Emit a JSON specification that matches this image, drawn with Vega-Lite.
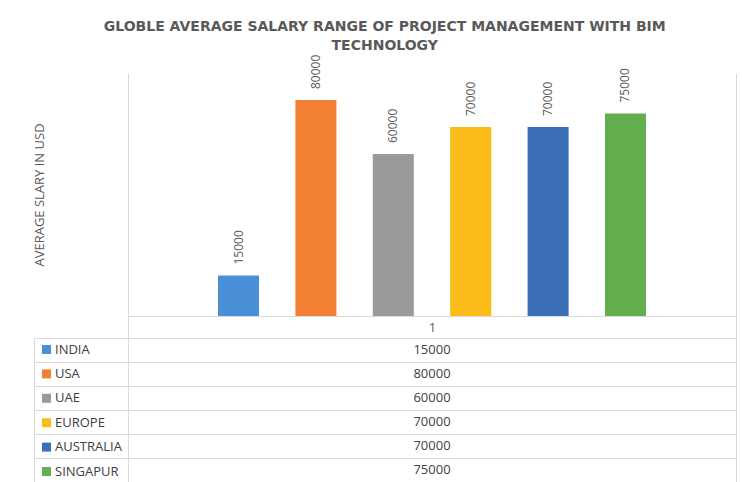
{
  "$schema": "https://vega.github.io/schema/vega-lite/v6.json",
  "background": "white",
  "padding": {"left": 33, "top": 19, "right": 4, "bottom": 0},
  "config": {"font": "Open Sans", "view": {"stroke": null}},
  "title": {
    "text": ["GLOBLE AVERAGE SALARY RANGE OF  PROJECT MANAGEMENT WITH BIM", "TECHNOLOGY"],
    "font": "DejaVu Sans", "fontSize": 14, "fontWeight": "bold", "color": "#595959",
    "lineHeight": 19, "offset": 2, "anchor": "middle"
  },
  "datasets": {
    "salary": [
      {"category": "1", "country": "INDIA", "salary": 15000},
      {"category": "1", "country": "USA", "salary": 80000},
      {"category": "1", "country": "UAE", "salary": 60000},
      {"category": "1", "country": "EUROPE", "salary": 70000},
      {"category": "1", "country": "AUSTRALIA", "salary": 70000},
      {"category": "1", "country": "SINGAPUR", "salary": 75000}
    ]
  },
  "bounds": "flush",
  "spacing": 22,
  "resolve": {"legend": {"color": "independent"}},
  "vconcat": [
    {
      "width": 608,
      "height": 243,
      "data": {"name": "salary"},
      "encoding": {
        "x": {
          "field": "category", "type": "nominal",
          "scale": {"type": "band", "paddingInner": 0, "paddingOuter": 0},
          "axis": {
            "title": null, "domainColor": "#d9d9d9", "tickBand": "extent", "tickSize": 22,
            "tickColor": "#d9d9d9", "labelAngle": 0, "labelPadding": -11, "labelBaseline": "middle",
            "labelFontSize": 13, "labelColor": "#595959", "labelFont": "Open Sans", "grid": false
          }
        },
        "xOffset": {
          "field": "country", "type": "nominal",
          "sort": ["INDIA", "USA", "UAE", "EUROPE", "AUSTRALIA", "SINGAPUR"],
          "scale": {"range": [90, 518], "paddingInner": 0.47, "paddingOuter": 0}
        }
      },
      "layer": [
        {
          "mark": {"type": "bar"},
          "encoding": {
            "y": {
              "field": "salary", "type": "quantitative",
              "scale": {"domain": [0, 90000], "nice": false},
              "axis": {
                "orient": "left", "title": "AVERAGE SLARY IN USD", "titleFont": "Open Sans",
                "titleFontSize": 13, "titleFontWeight": "normal", "titleColor": "#595959",
                "titlePadding": 82, "labels": false, "ticks": false, "grid": false, "domainColor": "#d9d9d9"
              }
            },
            "color": {
              "field": "country", "type": "nominal",
              "sort": ["INDIA", "USA", "UAE", "EUROPE", "AUSTRALIA", "SINGAPUR"],
              "scale": {
                "domain": ["INDIA", "USA", "UAE", "EUROPE", "AUSTRALIA", "SINGAPUR"],
                "range": ["#4A90D9", "#F28033", "#999B9B", "#FBBC1A", "#3A6FB8", "#63AE4F"]
              },
              "legend": {
                "orient": "none", "legendX": -88, "legendY": 270, "title": null,
                "symbolType": "square", "symbolSize": 81, "symbolStrokeWidth": 0,
                "labelFont": "Open Sans", "labelFontSize": 13, "labelColor": "#404040",
                "labelOffset": 2, "rowPadding": 10.4, "padding": 0, "symbolOffset": 0
              }
            }
          }
        },
        {
          "mark": {"type": "text", "angle": 270, "align": "left", "baseline": "middle", "dx": 11, "fontSize": 12, "color": "#595959", "font": "Open Sans"},
          "encoding": {
            "y": {
              "field": "salary", "type": "quantitative",
              "scale": {"domain": [0, 90000], "nice": false},
              "axis": {"orient": "right", "title": null, "labels": false, "ticks": false, "grid": false, "domainColor": "#d9d9d9"}
            },
            "text": {"field": "salary", "type": "quantitative", "format": "d"}
          }
        }
      ],
      "resolve": {"axis": {"y": "independent"}}
    },
    {
      "width": 608,
      "height": 144,
      "data": {"name": "salary"},
      "view": {"stroke": "#d9d9d9"},
      "layer": [
        {
          "mark": {"type": "text", "fontSize": 13, "color": "#404040", "font": "Open Sans"},
          "encoding": {
            "x": {"field": "category", "type": "nominal", "scale": {"type": "band", "paddingInner": 0, "paddingOuter": 0}, "axis": null},
            "y": {
              "field": "country", "type": "nominal",
              "sort": ["INDIA", "USA", "UAE", "EUROPE", "AUSTRALIA", "SINGAPUR"],
              "scale": {"type": "band", "paddingInner": 0, "paddingOuter": 0},
              "axis": {"title": null, "labels": false, "domain": false, "tickBand": "extent", "tickSize": 94, "tickColor": "#d9d9d9", "grid": true, "gridColor": "#d9d9d9"}
            },
            "text": {"field": "salary", "type": "quantitative", "format": "d"}
          }
        },
        {
          "mark": {"type": "text", "text": ""},
          "encoding": {
            "y": {
              "field": "country", "type": "nominal",
              "sort": ["INDIA", "USA", "UAE", "EUROPE", "AUSTRALIA", "SINGAPUR"],
              "scale": {"type": "band", "paddingInner": 0, "paddingOuter": 0},
              "axis": {"orient": "left", "offset": 94, "title": null, "labels": false, "ticks": false, "grid": false, "domainColor": "#d9d9d9"}
            }
          }
        }
      ],
      "resolve": {"axis": {"y": "independent"}}
    }
  ]
}
